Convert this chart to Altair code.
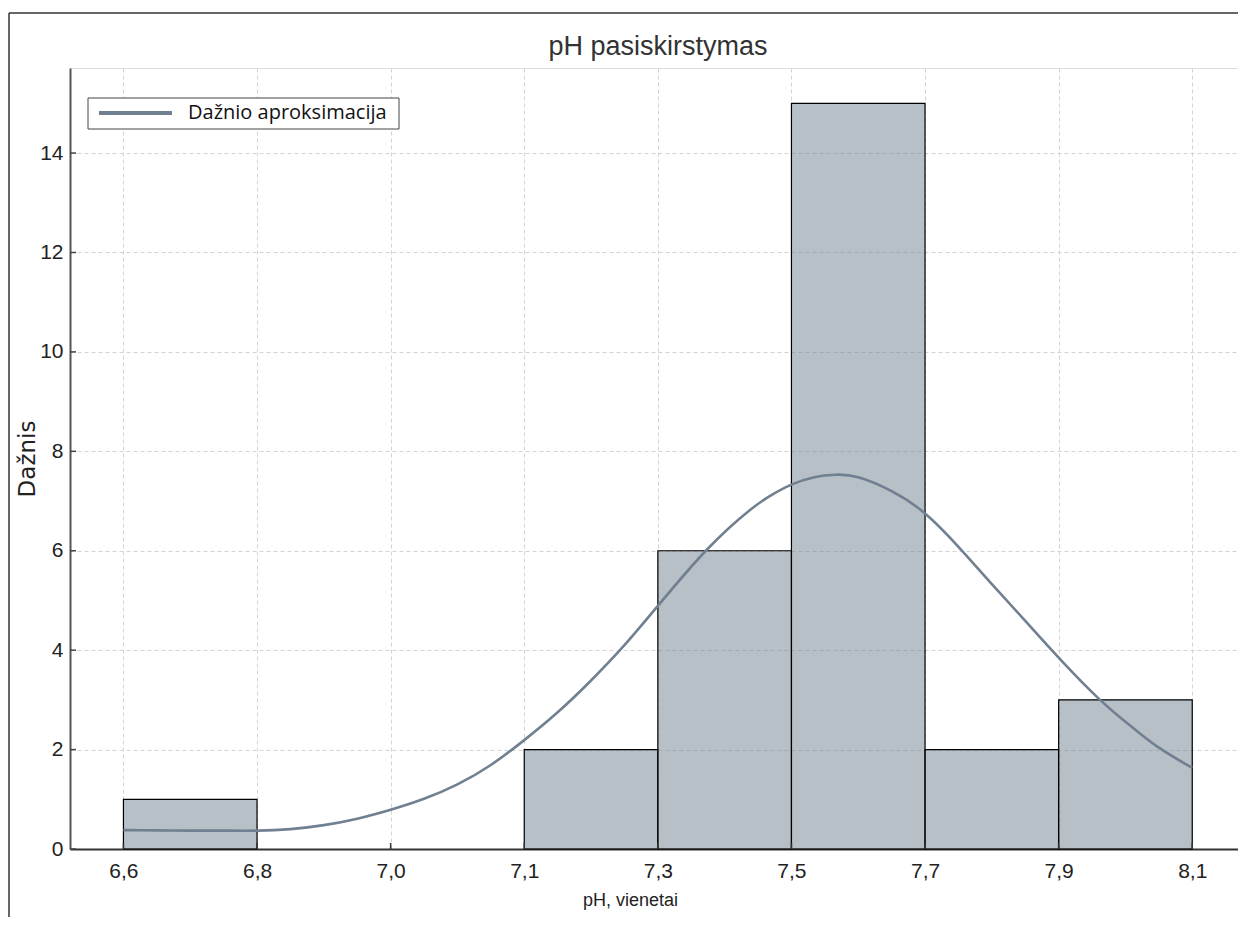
import altair as alt
import pandas as pd

# ---- text ----
title_text = "pH pasiskirstymas"
x_title = "pH, vienetai"
y_title = "Dažnis"
legend_label = "Dažnio aproksimacija"

# ---- axis categories (evenly spaced tick labels) ----
tick_labels = ["6,6", "6,8", "7,0", "7,1", "7,3", "7,5", "7,7", "7,9", "8,1"]
y_ticks = [0, 2, 4, 6, 8, 10, 12, 14]

# ---- histogram bins ----
bin_lo = ["6,6", "7,1", "7,3", "7,5", "7,7", "7,9"]
bin_hi = ["6,8", "7,3", "7,5", "7,7", "7,9", "8,1"]
bin_count = [1, 2, 6, 15, 2, 3]

# ---- smoothed frequency curve (position in tick-index units, value) ----
curve_pos = [0.00, 0.25, 0.50, 0.75, 1.00, 1.25, 1.50, 1.75, 2.00, 2.25, 2.50,
             2.75, 3.00, 3.25, 3.50, 3.75, 4.00, 4.37, 4.69, 4.85, 5.00, 5.17,
             5.33, 5.50, 5.75, 6.00, 6.25, 6.50, 6.75, 7.00, 7.31, 7.56, 7.75, 8.00]
curve_val = [0.38, 0.375, 0.37, 0.37, 0.37, 0.40, 0.48, 0.61, 0.79, 1.01, 1.30,
             1.69, 2.19, 2.75, 3.39, 4.10, 4.89, 6.03, 6.82, 7.12, 7.33, 7.48,
             7.53, 7.48, 7.20, 6.75, 6.08, 5.33, 4.59, 3.85, 3.00, 2.43, 2.04, 1.63]

bars_df = pd.DataFrame({
    "lo": [tick_labels.index(v) for v in bin_lo],
    "hi": [tick_labels.index(v) for v in bin_hi],
    "count": bin_count,
    "zero": [0] * len(bin_count),
})
curve_df = pd.DataFrame({"pos": curve_pos, "val": curve_val})
xt_df = pd.DataFrame({"pos": list(range(len(tick_labels)))})
yt_df = pd.DataFrame({"v": y_ticks})
one_df = pd.DataFrame({"a": [0]})

W, H = 1168, 781
PX_PER_X = 133.6
PX_PER_Y = 49.71
xs = alt.Scale(domain=[-0.4, -0.4 + W / PX_PER_X], nice=False, zero=False)
ys = alt.Scale(domain=[0, H / PX_PER_Y], nice=False)

FONT = "Liberation Sans, Arial, sans-serif"
label_expr = "[" + ",".join("'%s'" % t for t in tick_labels) + "][datum.value]"

grid_kw = dict(grid=True, gridDash=[4, 3], gridColor="#d3d3d3", gridWidth=1)

xaxis = alt.Axis(values=list(range(len(tick_labels))), labelExpr=label_expr,
                 title=x_title, ticks=False, domainColor="#333333", domainWidth=2,
                 labelFont=FONT, labelFontSize=21, labelColor="#222222",
                 labelPadding=11, labelOverlap=False, labelFlush=False,
                 titleFont=FONT, titleFontSize=18, titleFontWeight="normal",
                 titleColor="#222222", titlePadding=10, titleX=560,
                 titleAlign="center", **grid_kw)
yaxis = alt.Axis(values=y_ticks, title=y_title, ticks=False,
                 domainColor="#555555", domainWidth=2,
                 labelFont=FONT, labelFontSize=21, labelColor="#222222",
                 labelPadding=7, labelOverlap=False, labelFlush=False,
                 titleFont="DejaVu Sans", titleFontSize=23, titleFontWeight="normal",
                 titleColor="#222222", titleAngle=270, titleBaseline="alphabetic",
                 titleX=-36, titleY=H / 2, **grid_kw)

bars = alt.Chart(bars_df).mark_rect(
    fill="#708090", fillOpacity=0.5, stroke="black", strokeWidth=1.2
).encode(
    x=alt.X("lo:Q", scale=xs, axis=xaxis),
    x2="hi:Q",
    y=alt.Y("count:Q", scale=ys, axis=yaxis),
    y2="zero:Q",
)

xticks = alt.Chart(xt_df).mark_rule(color="#333333", strokeWidth=1.5).encode(
    x=alt.X("pos:Q", scale=xs, axis=xaxis),
    y=alt.value(H), y2=alt.value(H - 6),
)
yticks = alt.Chart(yt_df).mark_rule(color="#444444", strokeWidth=1.5).encode(
    y=alt.Y("v:Q", scale=ys, axis=yaxis),
    x=alt.value(0), x2=alt.value(6),
)

curve = alt.Chart(curve_df).mark_line(
    color="#708090", strokeWidth=2.6, interpolate="natural"
).encode(
    x=alt.X("pos:Q", scale=xs, axis=xaxis),
    y=alt.Y("val:Q", scale=ys, axis=yaxis),
)

frame_left = alt.Chart(one_df).mark_rule(color="#333333", strokeWidth=1.5).encode(
    x=alt.value(-61), y=alt.value(-55), y2=alt.value(H + 70)
)
frame_top = alt.Chart(one_df).mark_rule(color="#333333", strokeWidth=1.5).encode(
    y=alt.value(-55), x=alt.value(-61), x2=alt.value(W + 10)
)

title_mark = alt.Chart(one_df).mark_text(
    text=title_text, align="center", baseline="alphabetic",
    font=FONT, fontSize=27, color="#333333"
).encode(x=alt.value(W / 2 + 4), y=alt.value(-13))

leg_box = alt.Chart(one_df).mark_rect(fill="white", stroke="#444444", strokeWidth=1).encode(
    x=alt.value(18), x2=alt.value(329), y=alt.value(30), y2=alt.value(61)
)
leg_line = alt.Chart(one_df).mark_rule(color="#708090", strokeWidth=4).encode(
    x=alt.value(29), x2=alt.value(102), y=alt.value(45)
)
leg_text = alt.Chart(one_df).mark_text(
    text=legend_label, align="left", baseline="middle",
    font="Open Sans", fontSize=20, color="#111111"
).encode(x=alt.value(118), y=alt.value(45))

chart = alt.layer(
    bars, xticks, yticks, curve, frame_left, frame_top, title_mark,
    leg_box, leg_line, leg_text
).properties(
    width=W, height=H,
    autosize=alt.AutoSizeParams(type="none"),
    padding={"left": 62, "top": 60, "right": 0, "bottom": 68},
).configure_view(stroke=None).configure(background="white")

chart.save("out.html", embed_options={"renderer": "svg", "actions": False})
